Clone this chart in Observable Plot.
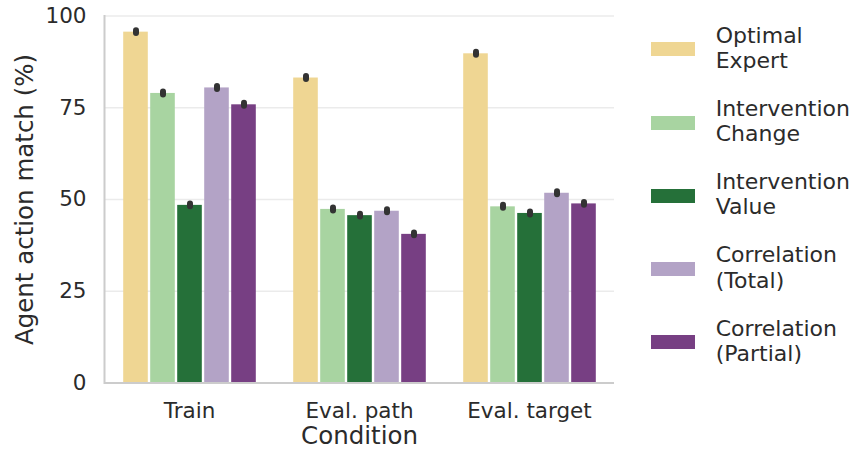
<!DOCTYPE html>
<html>
<head>
<meta charset="utf-8">
<script src="https://cdn.jsdelivr.net/npm/d3@7"></script>
<script src="https://cdn.jsdelivr.net/npm/@observablehq/plot@0.6"></script>
<style>
  html, body { margin: 0; padding: 0; background: #fff; }
  #wrap { position: relative; width: 867px; height: 450px; font-family: "DejaVu Sans", sans-serif; color: #2b2b2b; }
  #legend { position: absolute; left: 0; top: 0; }
  .entry { position: absolute; left: 651px; display: flex; align-items: center; }
  .sw { width: 44px; height: 14px; margin-right: 20.7px; margin-top: 3px; }
  .lab { font-size: 22px; line-height: 25.3px; white-space: pre; }
</style>
</head>
<body>
<div id="wrap"><div id="legend"></div></div>
<script>
// ---- data ----
const conditions = ["Train", "Eval. path", "Eval. target"];
const series = ["Optimal\nExpert", "Intervention\nChange", "Intervention\nValue", "Correlation\n(Total)", "Correlation\n(Partial)"];
const colors = ["#efd693", "#a8d4a1", "#257039", "#b3a3c6", "#773f83"];

const optimalExpert = [95.6, 83.1, 89.7];
const interventionChange = [78.9, 47.3, 48.0];
const interventionValue = [48.4, 45.6, 46.2];
const correlationTotal = [80.4, 46.8, 51.7];
const correlationPartial = [75.8, 40.5, 48.8];

const optimalExpertErr = [0.4, 0.4, 0.4];
const interventionChangeErr = [0.4, 0.4, 0.4];
const interventionValueErr = [0.4, 0.4, 0.4];
const correlationTotalErr = [0.4, 0.4, 0.4];
const correlationPartialErr = [0.4, 0.4, 0.4];

const yTicks = [0, 25, 50, 75, 100];

// ---- table ----
const valueSets = [optimalExpert, interventionChange, interventionValue, correlationTotal, correlationPartial];
const errSets = [optimalExpertErr, interventionChangeErr, interventionValueErr, correlationTotalErr, correlationPartialErr];
const data = [];
conditions.forEach((c, ci) => {
  series.forEach((s, si) => {
    data.push({cond: c, series: s, value: valueSets[si][ci], err: errSets[si][ci]});
  });
});

const font = "DejaVu Sans";
const chart = Plot.plot({
  width: 867,
  height: 450,
  marginLeft: 104,
  marginRight: 252.5,
  marginTop: 15.5,
  marginBottom: 67.5,
  style: {fontFamily: font, fontSize: "22px", color: "#2b2b2b", background: "transparent"},
  fx: {domain: conditions, padding: 0, label: "Condition"},
  x: {domain: series, paddingInner: 0, paddingOuter: 0.625, axis: null},
  y: {domain: [0, 100]},
  color: {domain: series, range: colors},
  marks: [
    Plot.gridY(yTicks.filter(t => t > 0), {stroke: "#ebebeb", strokeOpacity: 1, strokeWidth: 1.3}),
    Plot.barY(data, {fx: "cond", x: "series", y: "value", fill: "series", insetLeft: 1.2, insetRight: 1.2}),
    Plot.ruleX(data, {fx: "cond", x: "series", y1: d => d.value - d.err, y2: d => d.value + d.err, stroke: "#333", strokeWidth: 6, strokeLinecap: "round"}),
    Plot.ruleY([0], {stroke: "#cccccc", strokeWidth: 2}),
    Plot.frame({anchor: "left", stroke: "#cccccc", strokeWidth: 2, facetAnchor: "left"}),
    Plot.axisY({ticks: yTicks, tickSize: 0, tickPadding: 18, fontSize: 21.5, label: null}),
    Plot.axisY({ticks: [], tickSize: 0, fontSize: 24.5, label: "Agent action match (%)", labelAnchor: "center", labelArrow: "none", labelOffset: 89}),
    Plot.axisFx({anchor: "bottom", tickSize: 0, tickPadding: 19.5, fontSize: 21.5, label: null}),
    Plot.axisFx({anchor: "bottom", ticks: [], tickSize: 0, fontSize: 24.5, label: "Condition", labelAnchor: "center", labelArrow: "none", labelOffset: 61})
  ]
});
document.getElementById("wrap").prepend(chart);
chart.style.position = "absolute";
chart.style.left = "0";
chart.style.top = "0";

// ---- legend ----
const legend = document.getElementById("legend");
series.forEach((s, i) => {
  const e = document.createElement("div");
  e.className = "entry";
  e.style.top = (22.7 + i * 73.2) + "px";
  const sw = document.createElement("div");
  sw.className = "sw";
  sw.style.background = colors[i];
  const lab = document.createElement("div");
  lab.className = "lab";
  lab.textContent = s;
  e.appendChild(sw);
  e.appendChild(lab);
  legend.appendChild(e);
});
</script>
</body>
</html>
